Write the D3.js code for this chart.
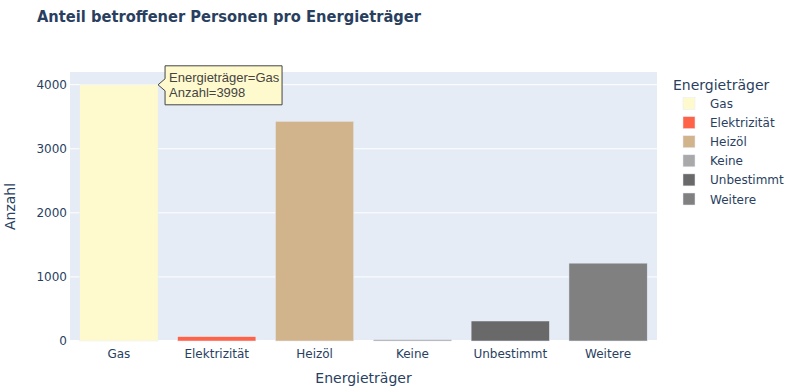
<!DOCTYPE html>
<html>
<head>
<meta charset="utf-8">
<script src="https://cdn.jsdelivr.net/npm/d3@7"></script>
<style>
  body { margin: 0; background: #fff; }
  svg { display: block; font-family: "DejaVu Sans", Verdana, sans-serif; }
</style>
</head>
<body>
<svg width="806" height="391"></svg>
<script>
// data
let categories = ['Gas', 'Elektrizität', 'Heizöl', 'Keine', 'Unbestimmt', 'Weitere'];
let counts = [3998, 68, 3428, 22, 312, 1215];
let barColors = ['#FFFACD', '#FF6347', '#D2B48C', '#A9A9A9', '#696969', '#808080'];
let yTicks = [0, 1000, 2000, 3000, 4000];

let w = 806;
let h = 391;
let plot = { left: 70, right: 657, top: 72, bottom: 341 };
let textColor = '#2a3f5f';

let svg = d3.select('svg');

let xScale = d3.scaleBand()
    .domain(categories)
    .range([plot.left, plot.right])
    .paddingInner(0.2)
    .paddingOuter(0.1);

let yScale = d3.scaleLinear()
    .domain([0, d3.max(counts) * 1.05])
    .range([plot.bottom, plot.top]);

let colorScale = d3.scaleOrdinal()
    .domain(categories)
    .range(barColors);

// background
svg.append('rect')
    .attr('x', plot.left)
    .attr('y', plot.top)
    .attr('width', plot.right - plot.left)
    .attr('height', plot.bottom - plot.top)
    .attr('fill', '#E5ECF6');

// gridlines
svg.append('g')
    .selectAll('line')
    .data(yTicks)
    .enter()
    .append('line')
    .attr('x1', plot.left)
    .attr('x2', plot.right)
    .attr('y1', d => yScale(d))
    .attr('y2', d => yScale(d))
    .attr('stroke', '#fff')
    .attr('stroke-width', d => d === 0 ? 2 : 1);

// bars
let data = categories.map((c, i) => ({ cat: c, val: counts[i] }));
svg.append('g')
    .selectAll('rect')
    .data(data)
    .enter()
    .append('rect')
    .attr('x', d => xScale(d.cat))
    .attr('width', xScale.bandwidth())
    .attr('y', d => yScale(d.val))
    .attr('height', d => plot.bottom - yScale(d.val))
    .attr('fill', d => colorScale(d.cat))
    .attr('stroke', '#E5ECF6')
    .attr('stroke-width', 0.5);

// axes
let yAxis = d3.axisLeft(yScale).tickValues(yTicks).tickFormat(d3.format('d')).tickSize(0).tickPadding(3);
let yg = svg.append('g')
    .attr('transform', 'translate(' + plot.left + ',0)')
    .call(yAxis);
yg.select('.domain').remove();
yg.selectAll('text')
    .attr('fill', textColor)
    .style('font-size', '12px')
    .style('font-family', '"DejaVu Sans", Verdana, sans-serif');

let xAxis = d3.axisBottom(xScale).tickSize(0).tickPadding(8);
let xg = svg.append('g')
    .attr('transform', 'translate(0,' + plot.bottom + ')')
    .call(xAxis);
xg.select('.domain').remove();
xg.selectAll('text')
    .attr('fill', textColor)
    .style('font-size', '12px')
    .style('font-family', '"DejaVu Sans", Verdana, sans-serif');

// titles
svg.append('text')
    .attr('x', 37)
    .attr('y', 22)
    .attr('fill', textColor)
    .attr('font-size', 16.5)
    .attr('font-weight', 'bold')
    .attr('textLength', 384)
    .attr('lengthAdjust', 'spacingAndGlyphs')
    .text('Anteil betroffener Personen pro Energieträger');

svg.append('text')
    .attr('x', (plot.left + plot.right) / 2)
    .attr('y', 383)
    .attr('text-anchor', 'middle')
    .attr('fill', textColor)
    .attr('font-size', 14)
    .text('Energieträger');

svg.append('text')
    .attr('transform', 'translate(15,' + ((plot.top + plot.bottom) / 2) + ') rotate(-90)')
    .attr('text-anchor', 'middle')
    .attr('fill', textColor)
    .attr('font-size', 14)
    .text('Anzahl');

// legend
let legend = svg.append('g').attr('transform', 'translate(673,0)');
legend.append('text')
    .attr('x', 0)
    .attr('y', 90)
    .attr('fill', textColor)
    .attr('font-size', 14)
    .text('Energieträger');

let items = legend.selectAll('g.item')
    .data(categories)
    .enter()
    .append('g')
    .attr('class', 'item')
    .attr('transform', (d, i) => 'translate(0,' + (103.5 + i * 19.1) + ')');
items.append('rect')
    .attr('x', 10)
    .attr('y', -6)
    .attr('width', 12)
    .attr('height', 12)
    .attr('fill', d => colorScale(d))
    .attr('stroke', '#E5ECF6')
    .attr('stroke-width', 0.5);
items.append('text')
    .attr('x', 37)
    .attr('y', 4.5)
    .attr('fill', textColor)
    .attr('font-size', 12)
    .text(d => d);

// hover label on Gas bar
let gx = xScale('Gas') + xScale.bandwidth();
let gy = yScale(counts[0]);
let tip = svg.append('g').attr('transform', 'translate(' + gx + ',' + gy + ')');
let tw = 117, th = 39;
tip.append('path')
    .attr('d', 'M0,0 L7,-6 L7,-19 L' + (7 + tw) + ',-19 L' + (7 + tw) + ',' + (th - 19) +
          ' L7,' + (th - 19) + ' L7,6 Z')
    .attr('fill', colorScale('Gas'))
    .attr('stroke', '#444')
    .attr('stroke-width', 1);
tip.append('text')
    .attr('x', 11)
    .attr('y', -3)
    .attr('fill', '#444')
    .attr('font-family', 'Arial, "Liberation Sans", sans-serif')
    .attr('font-size', 13)
    .text('Energieträger=' + categories[0]);
tip.append('text')
    .attr('x', 11)
    .attr('y', 12)
    .attr('fill', '#444')
    .attr('font-family', 'Arial, "Liberation Sans", sans-serif')
    .attr('font-size', 13)
    .text('Anzahl=' + counts[0]);
</script>
</body>
</html>
